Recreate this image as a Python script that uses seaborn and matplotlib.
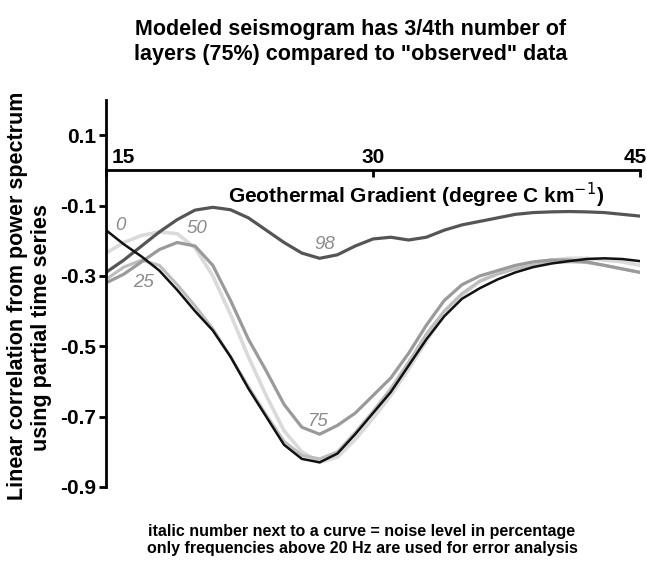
import matplotlib
matplotlib.use("Agg")
import matplotlib.pyplot as plt
import matplotlib.transforms as mtransforms
import seaborn as sns
import pandas as pd

sns.set_theme(style="white")
plt.rcParams['font.family'] = ['Liberation Sans', 'DejaVu Sans']
plt.rcParams['text.color'] = 'black'
plt.rcParams['axes.labelcolor'] = 'black'
plt.rcParams['xtick.color'] = 'black'
plt.rcParams['ytick.color'] = 'black'

# Geothermal gradient (degree C / km)
gradient = [15, 16, 17, 18, 19, 20, 21, 22, 23, 24, 25, 26, 27, 28, 29, 30,
            31, 32, 33, 34, 35, 36, 37, 38, 39, 40, 41, 42, 43, 44, 45]

# correlation curves, one per noise level (%)
corr_0 = [-0.17, -0.21, -0.245, -0.285, -0.34, -0.40, -0.455, -0.53, -0.62, -0.70,
          -0.78, -0.82, -0.83, -0.805, -0.75, -0.69, -0.63, -0.555, -0.48, -0.415,
          -0.365, -0.335, -0.31, -0.29, -0.275, -0.265, -0.258, -0.252, -0.25, -0.252, -0.258]
corr_25 = [-0.31, -0.275, -0.255, -0.27, -0.325, -0.385, -0.45, -0.53, -0.615, -0.695,
           -0.77, -0.81, -0.82, -0.80, -0.745, -0.685, -0.62, -0.545, -0.465, -0.40,
           -0.35, -0.315, -0.295, -0.28, -0.27, -0.262, -0.26, -0.262, -0.27, -0.28, -0.29]
corr_50 = [-0.235, -0.205, -0.185, -0.175, -0.18, -0.22, -0.30, -0.41, -0.53, -0.64,
           -0.74, -0.80, -0.83, -0.815, -0.765, -0.705, -0.64, -0.565, -0.485, -0.41,
           -0.355, -0.315, -0.29, -0.275, -0.265, -0.255, -0.25, -0.25, -0.255, -0.26, -0.27]
corr_75 = [-0.32, -0.295, -0.26, -0.225, -0.205, -0.215, -0.27, -0.37, -0.48, -0.57,
           -0.665, -0.73, -0.75, -0.725, -0.69, -0.64, -0.59, -0.52, -0.44, -0.37,
           -0.325, -0.30, -0.285, -0.27, -0.26, -0.255, -0.255, -0.26, -0.27, -0.28, -0.29]
corr_98 = [-0.29, -0.255, -0.215, -0.175, -0.14, -0.113, -0.105, -0.112, -0.135, -0.17,
           -0.205, -0.235, -0.25, -0.24, -0.215, -0.195, -0.19, -0.198, -0.19, -0.17,
           -0.155, -0.145, -0.135, -0.125, -0.12, -0.118, -0.117, -0.118, -0.12, -0.125, -0.13]

noise_levels = ["50", "25", "75", "98", "0"]
series = {"0": corr_0, "25": corr_25, "50": corr_50, "75": corr_75, "98": corr_98}
colors = {"0": "#111111", "25": "#bdbdbd", "50": "#dadada", "75": "#9a9a9a", "98": "#555555"}
widths = {"0": 1.8, "25": 2.2, "50": 2.6, "75": 2.3, "98": 2.3}

# label positions (data coords) for italic noise numbers
label_x = {"0": 15.8, "25": 17.1, "50": 20.1, "75": 26.9, "98": 27.3}
label_y = {"0": -0.157, "25": -0.32, "50": -0.166, "75": -0.715, "98": -0.212}

rows = []
for k in noise_levels:
    for g, c in zip(gradient, series[k]):
        rows.append({"gradient": g, "corr": c, "noise": k})
df = pd.DataFrame(rows)

W, H = 647, 564
fig = plt.figure(figsize=(W / 100, H / 100), dpi=100)
ax = fig.add_axes([106 / W, 1 - 487 / H, (640 - 106) / W, (487 - 100) / H])

for k in noise_levels:
    sns.lineplot(data=df[df["noise"] == k], x="gradient", y="corr", color=colors[k],
                 linewidth=widths[k], ax=ax, legend=False, sort=False)

for k in noise_levels:
    ax.text(label_x[k], label_y[k], k, fontsize=13.5, style="italic", color="#8c8c8c",
            ha="center", va="center")

ax.set_xlim(15, 45)
ax.set_ylim(-0.9, 0.2)
ax.set_facecolor("white")
for s in ["top", "right"]:
    ax.spines[s].set_visible(False)
ax.spines["bottom"].set_position(("data", 0))
ax.spines["left"].set_linewidth(2)
ax.spines["bottom"].set_linewidth(2)
ax.spines["left"].set_color("black")
ax.spines["bottom"].set_color("black")

ax.set_xticks([15, 30, 45])
ax.set_xticklabels(["15", "30", "45"])
ax.set_yticks([0.1, -0.1, -0.3, -0.5, -0.7, -0.9])
ax.set_yticklabels(["0.1", "-0.1", "-0.3", "-0.5", "-0.7", "-0.9"])
ax.tick_params(axis="x", direction="out", length=5, width=2,
               bottom=True, labelbottom=False, top=False, labeltop=False)
ax.tick_params(axis="y", direction="out", length=5, width=2, labelsize=15, pad=2, left=True)
for lbl in ax.get_yticklabels():
    lbl.set_fontweight("bold")

# x tick labels drawn above the zero line
xoffs = {15: ("left", 6), 30: ("center", 0), 45: ("right", 7)}
for xv, (ha, dx) in xoffs.items():
    tr = ax.transData + mtransforms.ScaledTranslation(dx / 100, 3 / 100, fig.dpi_scale_trans)
    ax.text(xv, 0, str(xv), transform=tr, ha=ha, va="bottom", fontsize=15,
            fontweight="bold", clip_on=False)

ax.set_xlabel("")
ax.set_ylabel("")
ax.text(32.4, -0.072, "Geothermal Gradient (degree C km$^{-1}$)", ha="center", va="center",
        fontsize=15, fontweight="bold")

fig.text(18 / W, 1 - 296 / H, "Linear correlation from power spectrum", rotation=90,
         ha="center", va="center", fontsize=15.5, fontweight="bold")
fig.text(42 / W, 1 - 328 / H, "using partial time series", rotation=90,
         ha="center", va="center", fontsize=15.5, fontweight="bold")

fig.text(351 / W, 1 - 42 / H,
         "Modeled seismogram has 3/4th number of\nlayers (75%) compared to \"observed\" data",
         ha="center", va="center", fontsize=15.5, fontweight="bold", linespacing=1.25)

fig.text(362 / W, 1 - 540 / H,
         "italic number next to a curve = noise level in percentage\n"
         "only frequencies above 20 Hz are used for error analysis",
         ha="center", va="center", fontsize=11.5, fontweight="bold", linespacing=1.15)

fig.savefig("out.png", dpi=100, facecolor="white")
